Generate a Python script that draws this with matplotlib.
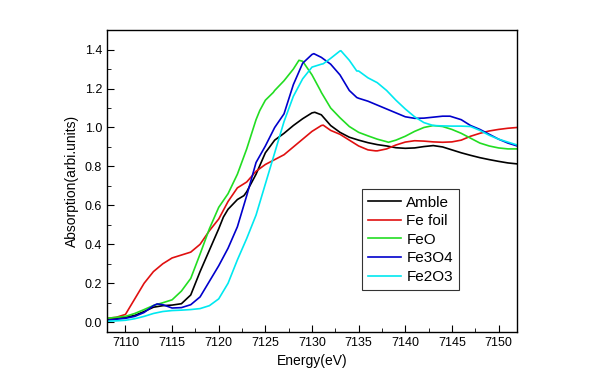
import matplotlib
matplotlib.use("Agg")
import matplotlib.pyplot as plt
import numpy as np
from matplotlib.ticker import MultipleLocator, FormatStrFormatter

plt.rcParams['font.family'] = ['Liberation Sans', 'DejaVu Sans']

energy = list(range(7108, 7153))

amble = [0.015, 0.02, 0.025, 0.035, 0.055, 0.077, 0.085, 0.088, 0.095, 0.14,
         0.26, 0.37, 0.48, 0.58, 0.63, 0.67, 0.76, 0.87, 0.935, 0.97,
         1.01, 1.045, 1.075, 1.065, 1.01, 0.975, 0.95, 0.935, 0.922, 0.912,
         0.905, 0.896, 0.893, 0.895, 0.902, 0.907, 0.90, 0.885, 0.87, 0.857,
         0.845, 0.835, 0.826, 0.818, 0.813]
fe_foil = [0.02, 0.025, 0.04, 0.12, 0.20, 0.26, 0.30, 0.33, 0.345, 0.36,
           0.40, 0.47, 0.53, 0.62, 0.69, 0.72, 0.775, 0.81, 0.835, 0.86,
           0.90, 0.94, 0.98, 1.01, 0.985, 0.965, 0.935, 0.905, 0.885, 0.88,
           0.89, 0.91, 0.925, 0.932, 0.93, 0.926, 0.924, 0.926, 0.935, 0.955,
           0.97, 0.982, 0.99, 0.996, 1.0]
feo = [0.02, 0.025, 0.03, 0.045, 0.065, 0.086, 0.10, 0.115, 0.16, 0.225,
       0.35, 0.48, 0.59, 0.66, 0.76, 0.89, 1.04, 1.14, 1.19, 1.24,
       1.30, 1.34, 1.27, 1.18, 1.10, 1.05, 1.005, 0.975, 0.957, 0.94,
       0.927, 0.935, 0.955, 0.98, 1.0, 1.01, 1.005, 0.99, 0.97, 0.945,
       0.92, 0.905, 0.895, 0.89, 0.89]
fe3o4 = [0.01, 0.015, 0.02, 0.03, 0.05, 0.085, 0.09, 0.073, 0.075, 0.09,
         0.13, 0.21, 0.29, 0.38, 0.49, 0.65, 0.82, 0.905, 1.0, 1.07,
         1.22, 1.33, 1.375, 1.36, 1.325, 1.27, 1.19, 1.15, 1.135, 1.115,
         1.095, 1.075, 1.055, 1.047, 1.048, 1.053, 1.058, 1.055, 1.04, 1.01,
         0.99, 0.965, 0.94, 0.92, 0.905]
fe2o3 = [0.005, 0.007, 0.01, 0.018, 0.03, 0.045, 0.055, 0.06, 0.062, 0.065,
         0.07, 0.085, 0.12, 0.20, 0.32, 0.43, 0.55, 0.71, 0.87, 1.03,
         1.16, 1.25, 1.31, 1.325, 1.355, 1.393, 1.345, 1.29, 1.255, 1.23,
         1.19, 1.14, 1.095, 1.055, 1.025, 1.01, 1.008, 1.007, 1.007, 1.005,
         0.985, 0.96, 0.94, 0.925, 0.91]

# extra points
amble_extra = [(7130.3, 1.078), (7120.5, 0.54), (7122.7, 0.65)]
fe_foil_extra = [(7131.2, 1.012), (7136.8, 0.88)]
feo_extra = [(7128.6, 1.345), (7124.4, 1.087), (7125.85, 1.18),
             (7130.9, 1.19), (7138.2, 0.924)]
fe3o4_extra = [(7130.2, 1.379), (7113.4, 0.094), (7134.8, 1.154),
               (7144.8, 1.058)]
fe2o3_extra = [(7133.1, 1.394), (7131.2, 1.327), (7134.8, 1.29)]

labels = ['Amble', 'Fe foil', 'FeO', 'Fe3O4', 'Fe2O3']
colors = ['#000000', '#e01010', '#22dd22', '#0000cc', '#00e8f0']


def merged(ys, extra):
    pts = sorted(list(zip(energy, ys)) + extra)
    return [p[0] for p in pts], [p[1] for p in pts]


fig = plt.figure(figsize=(6, 3.86), dpi=100)
ax = fig.add_axes([0.178, 0.140, 0.684, 0.782])

series = [(amble, amble_extra), (fe_foil, fe_foil_extra), (feo, feo_extra),
          (fe3o4, fe3o4_extra), (fe2o3, fe2o3_extra)]
for (ys, extra), lab, c in zip(series, labels, colors):
    xs, vs = merged(ys, extra)
    ax.plot(xs, vs, color=c, lw=1.2, label=lab, solid_joinstyle='round')

ax.set_xlim(7108, 7152)
ax.set_ylim(-0.05, 1.5)
ax.xaxis.set_major_locator(MultipleLocator(5))
ax.xaxis.set_minor_locator(MultipleLocator(2.5))
ax.set_yticks(np.arange(0, 1.41, 0.2))
ax.yaxis.set_minor_locator(MultipleLocator(0.1))
ax.yaxis.set_major_formatter(FormatStrFormatter('%.1f'))
ax.tick_params(which='both', direction='in', labelsize=9)
ax.tick_params(which='major', length=5)
ax.tick_params(which='minor', length=3)
for s in ax.spines.values():
    s.set_linewidth(1.0)

ax.set_xlabel('Energy(eV)', fontsize=10)
ax.set_ylabel('Absorption(arbi.units)', fontsize=10)

leg = ax.legend(loc='lower left', bbox_to_anchor=(0.622, 0.139), fontsize=11,
                frameon=True, fancybox=False, handlelength=2.15,
                borderpad=0.4, borderaxespad=0, labelspacing=0.3,
                handletextpad=0.35)
leg.get_frame().set_edgecolor('black')
leg.get_frame().set_linewidth(0.8)

fig.savefig('out.png', dpi=100)
